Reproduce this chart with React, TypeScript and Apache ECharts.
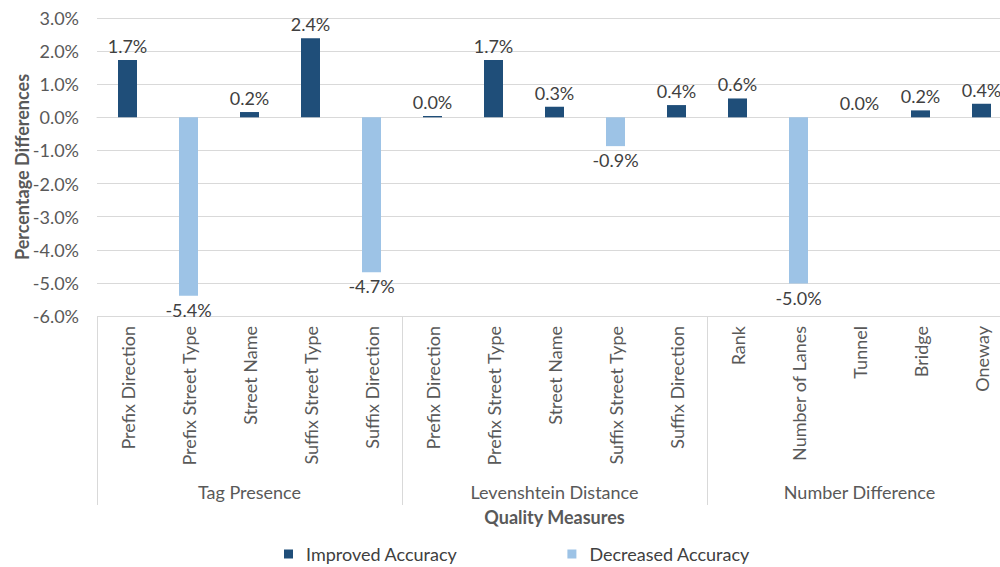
import React, { useEffect, useRef } from "react";
import * as echarts from "echarts";

const categories = [
  "Prefix Direction", "Prefix Street Type", "Street Name", "Suffix Street Type", "Suffix Direction",
  "Prefix Direction", "Prefix Street Type", "Street Name", "Suffix Street Type", "Suffix Direction",
  "Rank", "Number of Lanes", "Tunnel", "Bridge", "Oneway",
];
const groups = ["Tag Presence", "Levenshtein Distance", "Number Difference"];
const improved = [1.73, null, 0.16, 2.39, null, 0.04, 1.73, 0.32, null, 0.37, 0.57, null, 0.0, 0.21, 0.41];
const decreased = [null, -5.39, null, null, -4.68, null, null, null, -0.87, null, null, -5.02, null, null, null];
const yTicks = { min: -6, max: 3, interval: 1 };

const FONT = "Lato";
const FS = 18;
const GREY = "#595959";

export default function App() {
  const ref = useRef<HTMLDivElement>(null);
  useEffect(() => {
    const chart = echarts.init(ref.current!, null, { renderer: "svg" });
    const fmt = (v: number) => v.toFixed(1) + "%";
    chart.setOption({
      animation: false,
      textStyle: { fontFamily: FONT },
      grid: { left: 97, top: 18, width: 915, height: 298, outerBoundsMode: "none", containLabel: false },
      legend: {
        left: 279,
        top: 540,
        itemWidth: 9,
        itemHeight: 9,
        itemGap: 110,
        icon: "rect",
        textStyle: { fontFamily: FONT, fontSize: FS, color: "#404040", padding: [0, 0, 0, 8] },
        data: ["Improved Accuracy", "Decreased Accuracy"],
      },
      xAxis: [
        {
          type: "category",
          data: categories,
          position: "bottom",
          axisLine: { show: true, lineStyle: { color: "#D9D9D9", width: 1 } },
          axisTick: { show: false },
          axisLabel: {
            rotate: 90,
            interval: 0,
            margin: 10,
            color: GREY,
            fontFamily: FONT,
            fontSize: FS,
          },
        },
        {
          type: "category",
          data: groups,
          position: "bottom",
          axisLine: { show: false },
          axisTick: { show: true, length: 189, alignWithLabel: false, lineStyle: { color: "#D9D9D9", width: 1 } },
          axisLabel: { margin: 167, color: GREY, fontFamily: FONT, fontSize: FS, interval: 0 },
          name: "Quality Measures",
          nameLocation: "middle",
          nameGap: 192,
          nameMoveOverlap: false,
          nameTextStyle: { fontFamily: FONT, fontSize: FS, fontWeight: "bold", color: GREY },
        },
      ],
      yAxis: {
        type: "value",
        min: yTicks.min,
        max: yTicks.max,
        interval: yTicks.interval,
        axisLine: { show: false },
        axisTick: { show: false },
        splitLine: { lineStyle: { color: "#D9D9D9", width: 1 } },
        axisLabel: { formatter: fmt, margin: 18, color: GREY, fontFamily: FONT, fontSize: FS },
        name: "Percentage Differences",
        nameLocation: "middle",
        nameGap: 66,
        nameMoveOverlap: false,
        nameTextStyle: { fontFamily: FONT, fontSize: FS, fontWeight: "bold", color: GREY },
      },
      series: [
        {
          name: "Improved Accuracy",
          type: "bar",
          xAxisIndex: 0,
          data: improved,
          barWidth: 19,
          barGap: "-100%",
          itemStyle: { color: "#1F4E79" },
          label: {
            show: true,
            position: "top",
            distance: 5,
            formatter: (p: any) => fmt(p.value),
            color: "#404040",
            fontFamily: FONT,
            fontSize: FS,
          },
        },
        {
          name: "Decreased Accuracy",
          type: "bar",
          xAxisIndex: 0,
          data: decreased,
          barWidth: 19,
          barGap: "-100%",
          itemStyle: { color: "#9DC3E6" },
          label: {
            show: true,
            position: "bottom",
            distance: 5,
            formatter: (p: any) => fmt(p.value),
            color: "#404040",
            fontFamily: FONT,
            fontSize: FS,
          },
        },
      ],
    });
    return () => chart.dispose();
  }, []);
  return (
    <div
      ref={ref}
      style={{ position: "absolute", left: 0, top: 0, width: 1000, height: 567, background: "#fff" }}
    />
  );
}
